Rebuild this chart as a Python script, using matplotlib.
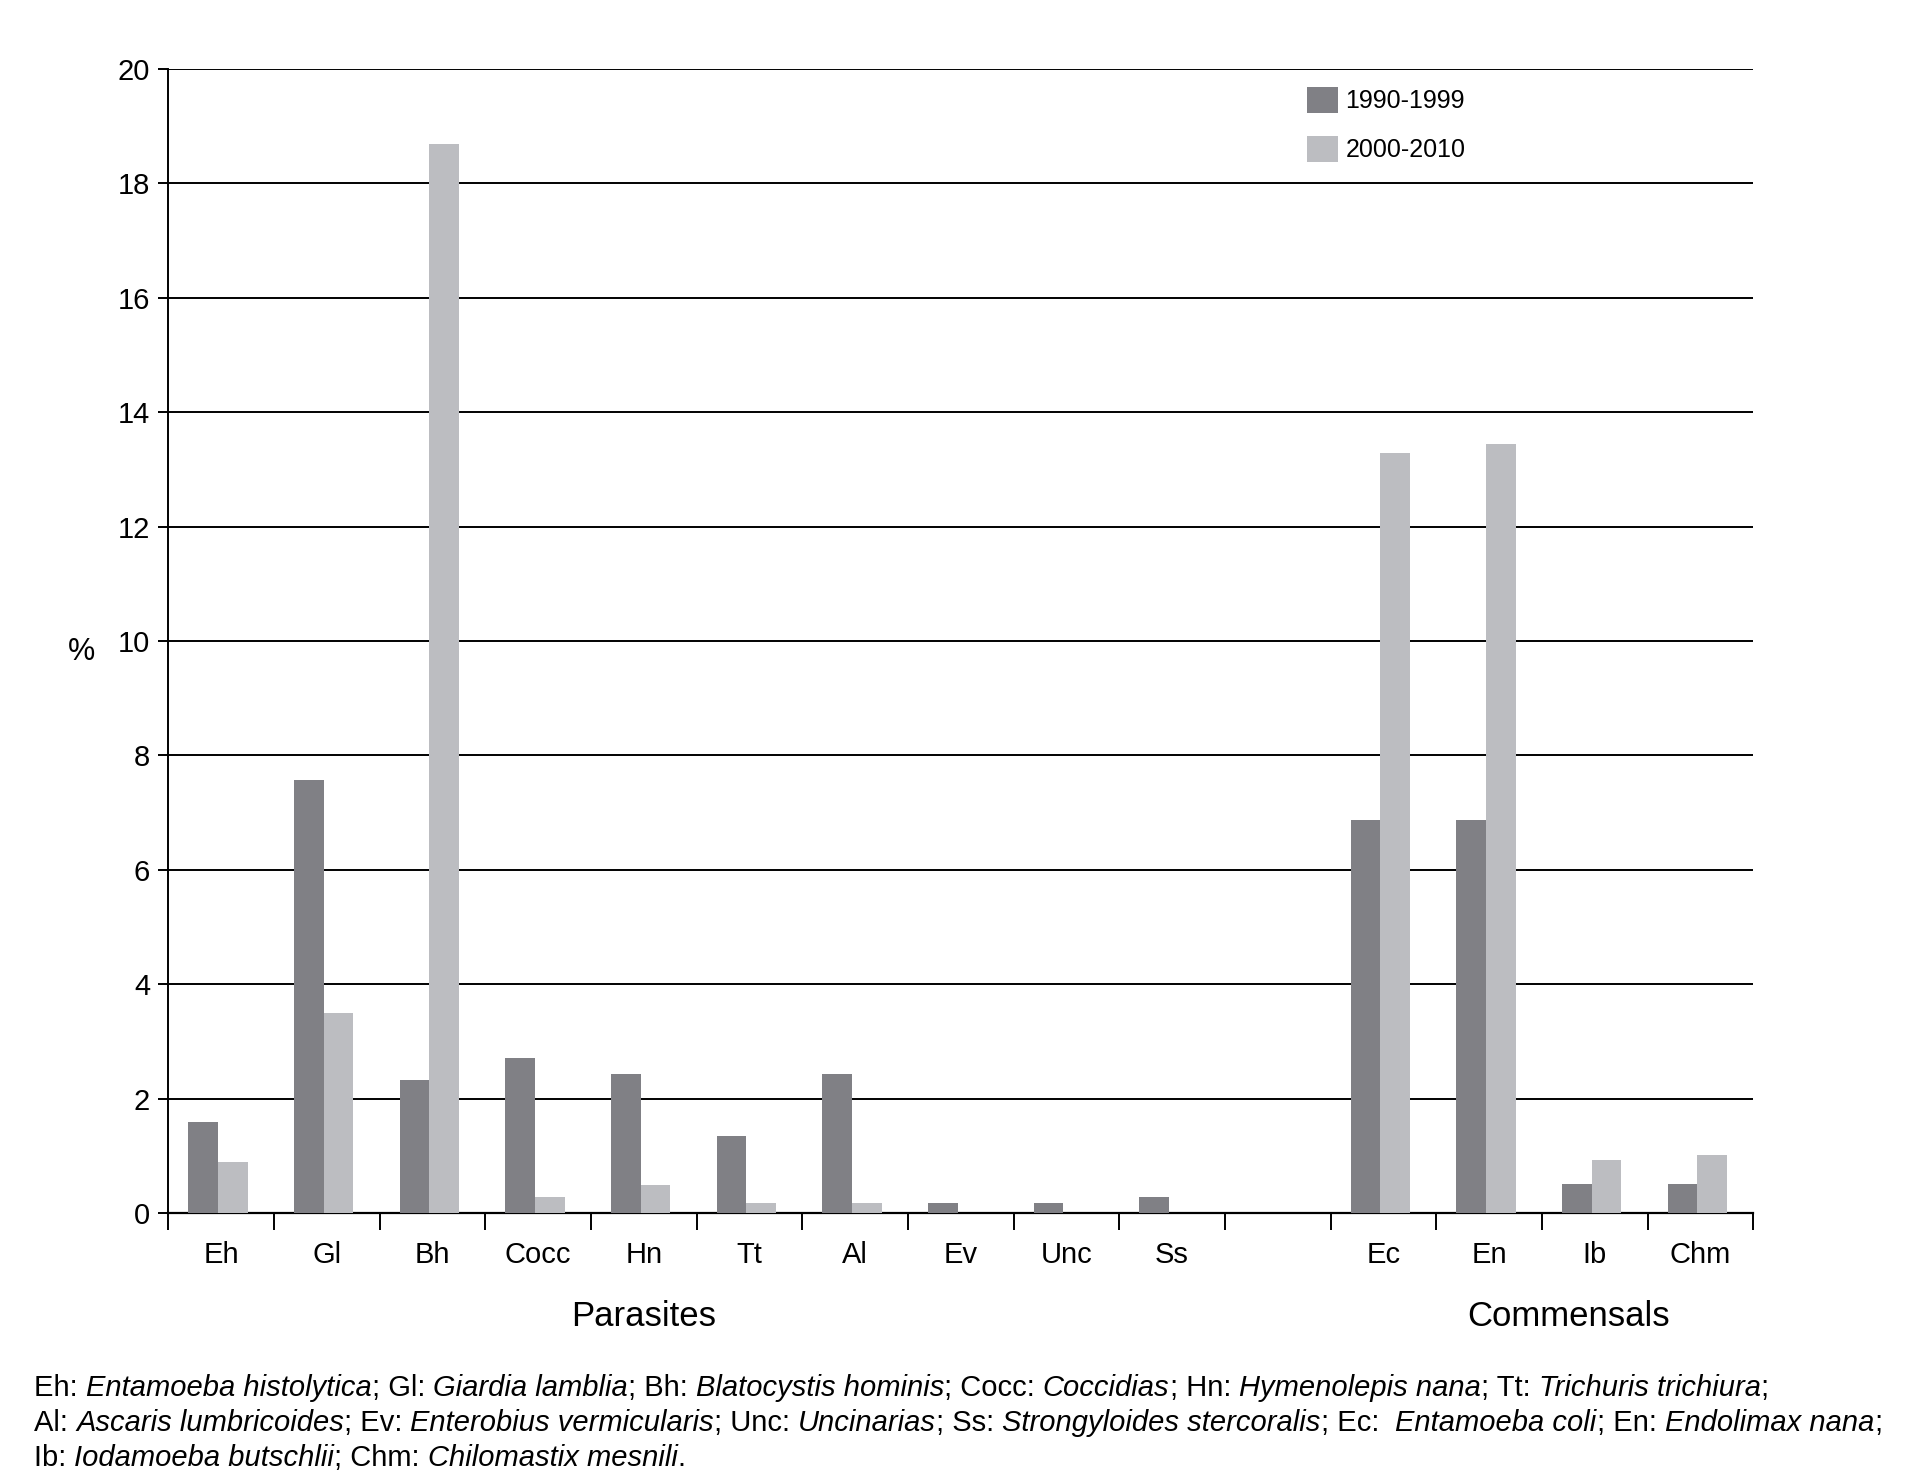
import matplotlib
matplotlib.use('Agg')
import matplotlib.pyplot as plt
import numpy as np

plt.rcParams['font.family'] = ['Liberation Sans', 'DejaVu Sans']

categories = ['Eh', 'Gl', 'Bh', 'Cocc', 'Hn', 'Tt', 'Al', 'Ev', 'Unc', 'Ss', '',
              'Ec', 'En', 'Ib', 'Chm']
tick_labels = ['Eh', 'Gl', 'Bh', 'Cocc', 'Hn', 'Tt', 'Al', 'Ev', 'Unc', 'Ss', '',
               'Ec', 'En', 'Ib', 'Chm']
v1990 = [1.59, 7.57, 2.32, 2.71, 2.44, 1.34, 2.44, 0.17, 0.17, 0.28, 0,
         6.87, 6.87, 0.51, 0.51]
v2000 = [0.90, 3.50, 18.68, 0.28, 0.49, 0.17, 0.17, 0, 0, 0, 0,
         13.28, 13.45, 0.93, 1.02]
series_names = ['1990-1999', '2000-2010']
groups = ['Parasites', 'Commensals']
group_pos = [4.0, 12.75]

caption = [
    [('Eh: ', 'normal'), ('Entamoeba histolytica', 'italic'), ('; Gl: ', 'normal'),
     ('Giardia lamblia', 'italic'), ('; Bh: ', 'normal'), ('Blatocystis hominis', 'italic'),
     ('; Cocc: ', 'normal'), ('Coccidias', 'italic'), ('; Hn: ', 'normal'),
     ('Hymenolepis nana', 'italic'), ('; Tt: ', 'normal'), ('Trichuris trichiura', 'italic'),
     (';', 'normal')],
    [('Al: ', 'normal'), ('Ascaris lumbricoides', 'italic'), ('; Ev: ', 'normal'),
     ('Enterobius vermicularis', 'italic'), ('; Unc: ', 'normal'), ('Uncinarias', 'italic'),
     ('; Ss: ', 'normal'), ('Strongyloides stercoralis', 'italic'), ('; Ec:  ', 'normal'),
     ('Entamoeba coli', 'italic'), ('; En: ', 'normal'), ('Endolimax nana', 'italic'),
     (';', 'normal')],
    [('Ib: ', 'normal'), ('Iodamoeba butschlii', 'italic'), ('; Chm: ', 'normal'),
     ('Chilomastix mesnili', 'italic'), ('.', 'normal')],
]

dark = '#808085'
light = '#bcbdc1'

fig = plt.figure(figsize=(19.12, 14.83), dpi=100, facecolor='white')
ax = fig.add_axes([0.088, 0.182, 0.829, 0.7715])

x = np.arange(len(categories))
w = 0.28
ax.bar(x - w / 2 - 0.03, v1990, width=w, color=dark, label=series_names[0], zorder=3)
ax.bar(x + w / 2 - 0.03, v2000, width=w, color=light, label=series_names[1], zorder=3)

ax.set_xlim(-0.5, len(categories) - 0.5)
ax.set_ylim(0, 20)
ax.set_yticks(np.arange(0, 21, 2))
ax.yaxis.grid(True, color='black', linewidth=1.4, zorder=0)
ax.set_axisbelow(True)
for s in ['top', 'right']:
    ax.spines[s].set_visible(False)
ax.spines['left'].set_linewidth(1.4)
ax.spines['bottom'].set_linewidth(1.6)

ax.set_xticks(np.arange(-0.5, len(categories), 1.0))
ax.set_xticklabels([])
ax.tick_params(axis='x', which='major', length=12, width=1.4, direction='out')
ax.set_xticks(x, minor=True)
ax.set_xticklabels(tick_labels, minor=True, fontsize=21)
ax.tick_params(axis='x', which='minor', length=0, pad=20)
ax.tick_params(axis='y', length=7, width=1.4, labelsize=21, pad=6)

ax.set_ylabel('%', rotation=0, fontsize=22, va='center', labelpad=16)
ax.yaxis.set_label_coords(-0.055, 0.49)

for g, p in zip(groups, group_pos):
    ax.text(p, -1.8, g, ha='center', va='center', fontsize=25)

ax.legend(loc='upper left', bbox_to_anchor=(0.677, 0.950), bbox_transform=fig.transFigure,
          frameon=False, fontsize=18, handlelength=1.24, handleheight=1.24,
          handletextpad=0.3, labelspacing=0.9, borderpad=0)

# caption with mixed italic text
renderer = fig.canvas.get_renderer()
line_y = [1388, 1423, 1458]
for parts, yy in zip(caption, line_y):
    xpos = 34
    for txt, style in parts:
        t = fig.text(xpos / 1912, 1 - yy / 1483, txt, fontsize=21, style=style,
                     ha='left', va='center')
        bb = t.get_window_extent(renderer=renderer)
        xpos += bb.width

fig.savefig('out.png', dpi=100, facecolor='white')
